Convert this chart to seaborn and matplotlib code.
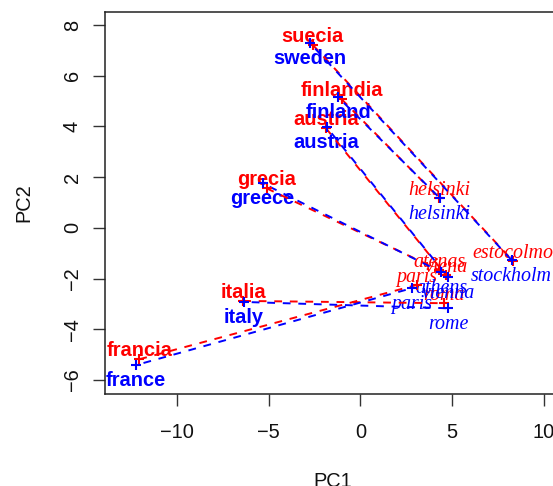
import matplotlib
matplotlib.use("Agg")
import matplotlib.pyplot as plt
import seaborn as sns
import pandas as pd

# ---- data ----
countries_es = ["suecia", "finlandia", "austria", "grecia", "italia", "francia"]
capitals_es = ["estocolmo", "helsinki", "viena", "atenas", "roma", "paris"]
countries_en = ["sweden", "finland", "austria", "greece", "italy", "france"]
capitals_en = ["stockholm", "helsinki", "vienna", "athens", "rome", "paris"]

red_country_x = [-2.59, -1.02, -1.88, -5.11, -6.39, -12.05]
red_country_y = [7.21, 5.07, 3.93, 1.56, -2.88, -5.18]
red_capital_x = [8.29, 4.30, 4.66, 4.28, 4.57, 3.06]
red_capital_y = [-1.29, 1.17, -1.86, -1.66, -2.97, -2.25]

blue_country_x = [-2.75, -1.21, -1.84, -5.33, -6.35, -12.23]
blue_country_y = [7.29, 5.15, 3.97, 1.76, -2.92, -5.41]
blue_capital_x = [8.24, 4.32, 4.77, 4.39, 4.78, 2.79]
blue_capital_y = [-1.27, 1.18, -1.94, -1.74, -3.17, -2.38]

x_ticks = [-10, -5, 0, 5, 10]
y_ticks = [-6, -4, -2, 0, 2, 4, 6, 8]

RED = "#FF0000"
BLUE = "#0000FF"

sns.set_style("white")
plt.rcParams["font.family"] = ["Liberation Sans", "DejaVu Sans"]

fig = plt.figure(figsize=(5.53, 4.86), dpi=100)
ax = fig.add_axes([105 / 553, (486 - 394) / 486, (561 - 105) / 553, (394 - 11.7) / 486])

FS = 14.4

# labels
def put_labels(xs, ys, labels, color, dy, bold):
    for x, y, t in zip(xs, ys, labels):
        if bold:
            ax.annotate(t, (x, y), xytext=(0, dy), textcoords="offset points",
                        ha="center", va="baseline", color=color, fontsize=FS,
                        fontweight="bold", family=["Liberation Sans", "DejaVu Sans"],
                        zorder=2)
        else:
            ax.annotate(t, (x, y), xytext=(0, dy), textcoords="offset points",
                        ha="center", va="baseline", color=color, fontsize=FS,
                        fontstyle="italic", family=["Liberation Serif", "DejaVu Serif"],
                        zorder=2)

put_labels(red_country_x, red_country_y, countries_es, RED, 2.2, True)
put_labels(red_capital_x, red_capital_y, capitals_es, RED, 2.2, False)
put_labels(blue_country_x, blue_country_y, countries_en, BLUE, -15.1, True)
put_labels(blue_capital_x, blue_capital_y, capitals_en, BLUE, -15.1, False)

# connecting dashed lines
for i in range(len(countries_es)):
    ax.plot([red_country_x[i], red_capital_x[i]], [red_country_y[i], red_capital_y[i]],
            color=RED, lw=1.4, linestyle=(0, (4, 4)), zorder=3)
for i in range(len(countries_en)):
    ax.plot([blue_country_x[i], blue_capital_x[i]], [blue_country_y[i], blue_capital_y[i]],
            color=BLUE, lw=1.4, linestyle=(4, (4, 4)), zorder=3)

# points
red_df = pd.DataFrame({"PC1": red_country_x + red_capital_x, "PC2": red_country_y + red_capital_y})
blue_df = pd.DataFrame({"PC1": blue_country_x + blue_capital_x, "PC2": blue_country_y + blue_capital_y})
sns.scatterplot(data=red_df, x="PC1", y="PC2", marker="+", color=RED, s=55, linewidth=1.5, ax=ax, zorder=4)
sns.scatterplot(data=blue_df, x="PC1", y="PC2", marker="+", color=BLUE, s=55, linewidth=1.5, ax=ax, zorder=4)

ax.set_xlim(-13.92, 10.93)
ax.set_ylim(-6.55, 8.525)
ax.set_xticks(x_ticks)
ax.set_yticks(y_ticks)
ax.set_xticklabels([f"{v}".replace("-", "\u2212") for v in x_ticks], fontsize=FS)
ax.set_yticklabels([f"{v}".replace("-", "\u2212") for v in y_ticks], fontsize=FS,
                   rotation=90, va="center")
ax.tick_params(axis="both", direction="out", length=8.6, width=1.0, color="#333333",
               labelcolor="#111111", left=True, bottom=True)
ax.tick_params(axis="x", pad=12)
ax.tick_params(axis="y", pad=8)
ax.set_xlabel("PC1", fontsize=FS, color="#111111", labelpad=22)
ax.set_ylabel("PC2", fontsize=FS, color="#111111", labelpad=21)
for s in ax.spines.values():
    s.set_color("#222222")
    s.set_linewidth(1.1)
    s.set_visible(True)

fig.savefig("out.png", dpi=100)
